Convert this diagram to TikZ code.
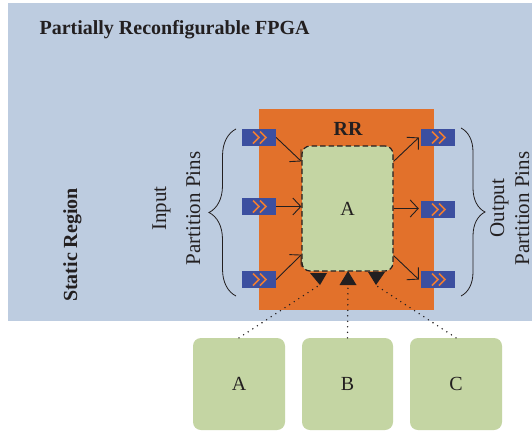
\documentclass[tikz,border=0pt]{standalone}
\usepackage{fontspec}
\setmainfont{Liberation Serif}
\usetikzlibrary{decorations.pathreplacing,arrows.meta,calc}
\definecolor{bgblue}{HTML}{BDCCE0}
\definecolor{rrorange}{HTML}{E2712B}
\definecolor{pinblue}{HTML}{3C4FA0}
\definecolor{chev}{HTML}{EE7D33}
\definecolor{modgreen}{HTML}{C4D5A3}
\definecolor{ink}{HTML}{231F20}
\begin{document}
\begin{tikzpicture}[x=1pt,y=-1pt,
  font=\fontsize{20}{24}\selectfont, text=ink,
  pinbox/.style={fill=pinblue, minimum width=34pt, minimum height=17pt, inner sep=0pt,
    path picture={\draw[chev, line width=1.5pt]
      ($(path picture bounding box.center)+(-6,-6)$) -- ++(6,6) -- ++(-6,6)
      ($(path picture bounding box.center)+(1,-6)$) -- ++(6,6) -- ++(-6,6);}},
  module/.style={fill=modgreen, rounded corners=8pt, inner sep=0pt},
  pinarrow/.style={draw=ink, line width=0.9pt, -{Straight Barb[length=8pt,width=17pt,line width=0.9pt]}},
  link/.style={draw=ink, line width=1.6pt, line cap=round, dash pattern=on 0pt off 5.5pt},
  bracestyle/.style={draw=ink, line width=0.8pt, decorate},
  sidelabel/.style={rotate=90, anchor=base, font=\fontsize{21}{24}\selectfont},
  boldlabel/.style={font=\fontsize{20}{24}\selectfont\bfseries}
]
\useasboundingbox (0,0) rectangle (532,432);
\fill[white] (0,0) rectangle (532,432);
\fill[bgblue] (8,3) rectangle (532,321);
\node[anchor=base west, boldlabel] (title) at (36,34) {Partially Reconfigurable FPGA};
\node[fill=rrorange, minimum width=175pt, minimum height=201pt, inner sep=0pt] (rr) at (346.5,209.5) {};
\node[boldlabel] (rrlabel) at (348,129) {RR};
\node[module, draw=ink, line width=1.2pt, dash pattern=on 5.5pt off 3pt, minimum width=91pt, minimum height=125pt] (a) at (347.5,208.5) {A};
% pins
\node[pinbox] (in1) at (259,137.5) {};
\node[pinbox] (in2) at (259,206.5) {};
\node[pinbox] (in3) at (259,279.5) {};
\node[pinbox] (out1) at (438,137.5) {};
\node[pinbox] (out2) at (438,209.5) {};
\node[pinbox] (out3) at (438,279.5) {};
% arrows
\draw[pinarrow] (in1.east) -- ($(a.north west)+(0,16)$);
\draw[pinarrow] (in2.east) -- (in2.east -| a.west);
\draw[pinarrow] (in3.east) -- ($(a.south west)+(0,-17)$);
\draw[pinarrow] ($(a.north east)+(0,16)$) -- ($(out1.west)+(-2,0)$);
\draw[pinarrow] (a.east) -- ($(a.east -| out2.west)+(-2,0)$);
\draw[pinarrow] ($(a.south east)+(0,-16)$) -- ($(out3.west)+(-2,0)$);
% braces
\draw[bracestyle, decoration={brace, amplitude=27pt}] (236,296) -- (236,129);
\draw[bracestyle, decoration={brace, amplitude=24pt}] (461,128) -- (461,296);
% side labels
\node[sidelabel] (inlabel1) at (166,208.5) {Input};
\node[sidelabel] (inlabel2) at (200,208.5) {Partition Pins};
\node[sidelabel] (outlabel1) at (504,208) {Output};
\node[sidelabel] (outlabel2) at (529,208.5) {Partition Pins};
\node[rotate=90, anchor=base, boldlabel] (static) at (77,245) {Static Region};
% bottom modules
\node[module, minimum width=92pt, minimum height=92pt] (ma) at (239,384) {A};
\node[module, minimum width=91pt, minimum height=92pt] (mb) at (347.5,384) {B};
\node[module, minimum width=92pt, minimum height=92pt] (mc) at (456,384) {C};
% triangles
\fill[ink] (310,273) -- (327,273) -- (320,285) -- cycle;
\fill[ink] (339.5,285) -- (356.5,285) -- (348,271) -- cycle;
\fill[ink] (368,272) -- (385,272) -- (376,285) -- cycle;
\coordinate (tl) at (318,286);
\coordinate (tm) at (348,286);
\coordinate (tr) at (377,286);
% dotted links
\draw[link] (ma.north) -- (tl);
\draw[link] (mb.north) -- (tm);
\draw[link] (mc.north) -- (tr);
\end{tikzpicture}
\end{document}
